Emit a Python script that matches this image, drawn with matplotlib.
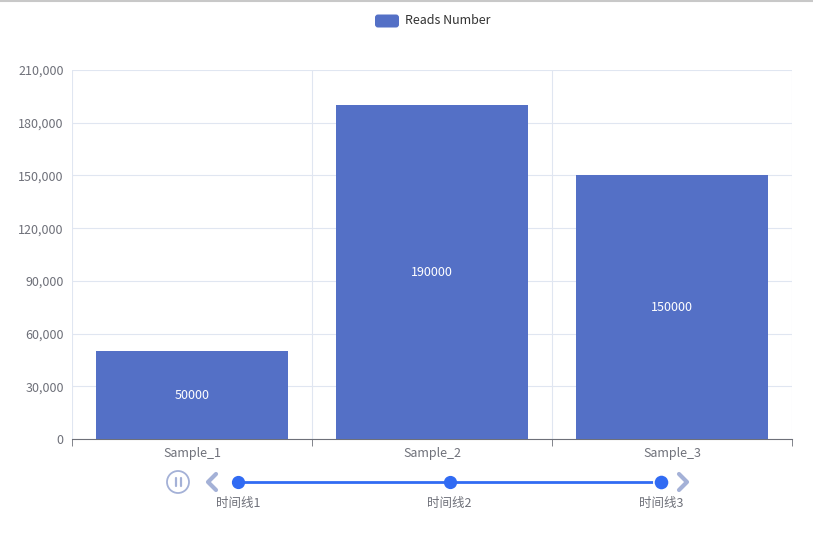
import matplotlib.pyplot as plt
from matplotlib.patches import FancyBboxPatch, Circle
import numpy as np

plt.rcParams['font.family'] = ['Noto Sans CJK SC', 'DejaVu Sans']

categories = ["Sample_1", "Sample_2", "Sample_3"]
reads = [50000, 190000, 150000]
y_ticks = [0, 30000, 60000, 90000, 120000, 150000, 180000, 210000]
timeline_labels = ["时间线1", "时间线2", "时间线3"]
legend_label = "Reads Number"

BAR_COLOR = "#5470c6"
TEXT_COLOR = "#6e7079"
GRID_COLOR = "#e0e6f1"
TL_COLOR = "#316bf3"
CTRL_COLOR = "#a4b1d7"

W, H = 813, 536
fig = plt.figure(figsize=(W / 100, H / 100), dpi=100)

# main plot area, in pixel terms: x 72..792, y 70..439
ax = fig.add_axes([72 / W, 1 - 439 / H, 720 / W, 369 / H])
x = np.arange(len(categories))
bars = ax.bar(x, reads, width=0.8, color=BAR_COLOR, zorder=3)
for xi, v in zip(x, reads):
    ax.text(xi, v / 2, str(v), color="white", ha="center", va="center",
            fontsize=9, zorder=4)

ax.set_xlim(-0.5, len(categories) - 0.5)
ax.set_ylim(0, y_ticks[-1])
ax.set_yticks(y_ticks)
ax.set_yticklabels([f"{t:,}" for t in y_ticks])
ax.set_xticks(x)
ax.set_xticklabels(categories)
ax.set_xticks(np.arange(len(categories) + 1) - 0.5, minor=True)
ax.tick_params(axis="x", which="major", length=0, pad=6, labelsize=9,
               labelcolor=TEXT_COLOR)
ax.tick_params(axis="x", which="minor", length=5, color=TEXT_COLOR)
ax.tick_params(axis="y", length=0, pad=6, labelsize=9, labelcolor=TEXT_COLOR)
ax.grid(axis="y", color=GRID_COLOR, linewidth=0.8, zorder=0)
ax.grid(axis="x", which="minor", color=GRID_COLOR, linewidth=0.8, zorder=0)
for side in ["top", "right", "left"]:
    ax.spines[side].set_visible(False)
ax.spines["bottom"].set_color(TEXT_COLOR)
ax.spines["bottom"].set_linewidth(0.8)
ax.set_axisbelow(True)

# overlay in pixel coordinates for legend, timeline and frame line
ov = fig.add_axes([0, 0, 1, 1])
ov.set_xlim(0, W)
ov.set_ylim(H, 0)
ov.axis("off")
ov.axhline(1, color="#c8c8c8", linewidth=1.5)

ov.add_patch(FancyBboxPatch((375, 14.5), 24, 13, boxstyle="round,pad=0,rounding_size=3",
                            facecolor=BAR_COLOR, edgecolor="none"))
ov.text(405, 20.5, legend_label, ha="left", va="center", fontsize=9, color="#333333")

# timeline
tl_x = np.linspace(238, 661, len(timeline_labels))
tl_y = 482
ov.plot([tl_x[0], tl_x[-1]], [tl_y, tl_y], color=TL_COLOR, linewidth=2, zorder=2)
for i, (tx, lab) in enumerate(zip(tl_x, timeline_labels)):
    if i == len(timeline_labels) - 1:
        ov.plot(tx, tl_y, "o", markersize=11, color=TL_COLOR, markeredgecolor="white",
                markeredgewidth=1.2, zorder=4)
    else:
        ov.plot(tx, tl_y, "o", markersize=8.5, color=TL_COLOR, zorder=3)
    ov.text(tx, 503, lab, ha="center", va="center", fontsize=9, color=TEXT_COLOR)

# play / pause control and arrows
ov.add_patch(Circle((178, tl_y), 11, facecolor="none", edgecolor=CTRL_COLOR, linewidth=1.3))
for dx in (-2.5, 2.5):
    ov.plot([178 + dx, 178 + dx], [tl_y - 4, tl_y + 4], color=CTRL_COLOR, linewidth=1.6,
            solid_capstyle="round")
ov.plot([216, 208, 216], [tl_y - 8, tl_y, tl_y + 8], color=CTRL_COLOR, linewidth=3,
        solid_capstyle="round", solid_joinstyle="round")
ov.plot([679, 687, 679], [tl_y - 8, tl_y, tl_y + 8], color=CTRL_COLOR, linewidth=3,
        solid_capstyle="round", solid_joinstyle="round")

fig.savefig("out.png", dpi=100)
